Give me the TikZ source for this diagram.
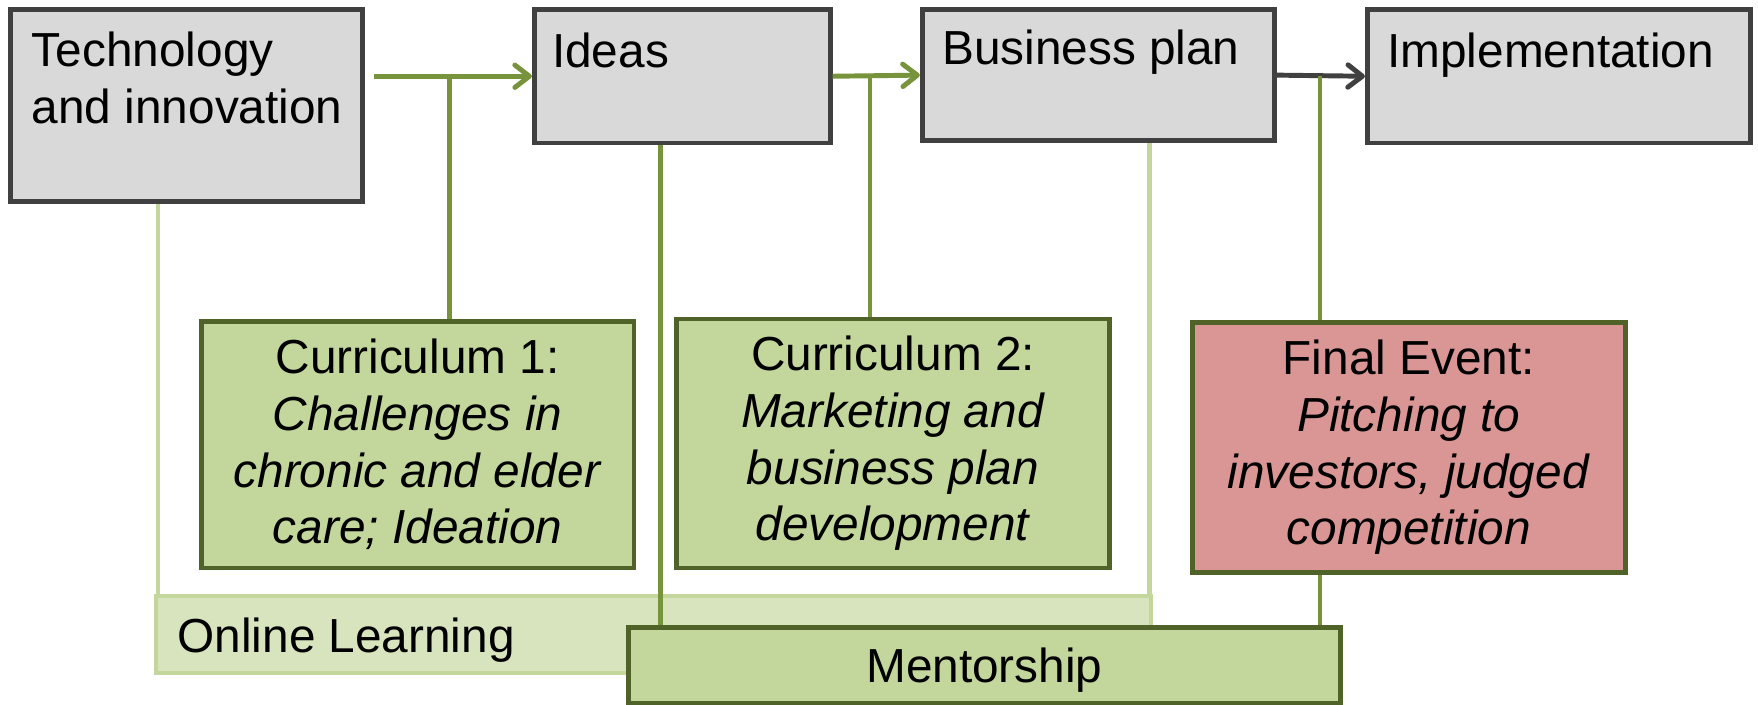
\documentclass[tikz,border=0pt]{standalone}
\usepackage{fontspec}
\setmainfont{Liberation Sans}
\usetikzlibrary{arrows.meta,calc}
\definecolor{boxgray}{HTML}{D9D9D9}
\definecolor{edgegray}{HTML}{404040}
\definecolor{olivefill}{HTML}{C3D69B}
\definecolor{oliveedge}{HTML}{4F6228}
\definecolor{arrowgreen}{HTML}{77933C}
\definecolor{paleline}{HTML}{C3D69B}
\definecolor{palefill}{HTML}{D7E4BD}
\definecolor{rosefill}{HTML}{D99694}
\begin{document}
\begin{tikzpicture}[x=0.5pt,y=-0.5pt,
  every node/.style={font=\fontsize{21.3pt}{25.3pt}\selectfont},
  graybox/.style={rectangle,draw=edgegray,fill=boxgray,line width=2.1pt,inner sep=0pt},
  toptext/.style={anchor=north west,inner sep=0pt,align=left},
  greenbox/.style={rectangle,draw=oliveedge,fill=olivefill,line width=2.1pt,inner sep=0pt,align=center},
  rosebox/.style={greenbox,fill=rosefill},
  palebox/.style={rectangle,draw=paleline,fill=palefill,line width=1.8pt,inner sep=0pt},
  garrow/.style={draw=arrowgreen,line width=2.2pt,-{Straight Barb[length=6.5pt,width=10pt,round]}},
  darrow/.style={draw=edgegray,line width=2.2pt,-{Straight Barb[length=6.5pt,width=10pt,round]}},
  gline/.style={draw=arrowgreen,line width=1.9pt},
  paleconn/.style={draw=paleline,line width=2.1pt}]
\useasboundingbox (0,0) rectangle (1568,628);

% top row
\node[graybox,minimum width=157pt,minimum height=85.5pt] (tech) at (166.5,94) {};
\node[graybox,minimum width=132pt,minimum height=59.5pt] (ideas) at (608.5,68) {};
\node[graybox,minimum width=157pt,minimum height=58.5pt] (bplan) at (979.5,67) {};
\node[graybox,minimum width=171pt,minimum height=59.5pt] (impl) at (1390.5,68) {};
\node[toptext] (techtext) at (28,28) {Technology\\and innovation};
\node[toptext] (ideastext) at (492,29) {Ideas};
\node[toptext] (bplantext) at (840,26) {Business plan};
\node[toptext] (impltext) at (1237,29) {Implementation};

% arrows
\draw[garrow] ($(tech.east |- ideas.west)+(8,0)$) -- (ideas.west);
\draw[garrow] (ideas.east) -- (bplan.west);
\draw[darrow] (bplan.east) -- (impl.west);

\coordinate (j1) at (401,70);
\coordinate (j2) at (776,68);
\coordinate (j3) at (1177,68);
\coordinate (p1) at (141,0);
\coordinate (p2) at (1025,0);
\coordinate (m1) at (589,0);

% middle boxes
\node[greenbox,minimum width=193pt,minimum height=110pt] (cur1) at (372.5,396.5)
  {Curriculum 1:\\\textit{Challenges in}\\\textit{chronic and elder}\\\textit{care; Ideation}};
\node[greenbox,minimum width=193pt,minimum height=111pt] (cur2) at (796.5,395.5)
  {Curriculum 2:\\\textit{Marketing and}\\\textit{business plan}\\\textit{development}};
\node[rosebox,minimum width=193pt,minimum height=111.5pt] (final) at (1256.5,399)
  {Final Event:\\\textit{Pitching to}\\\textit{investors, judged}\\\textit{competition}};

\draw[gline] (j1) -- (j1 |- cur1.north);
\draw[gline] (j2) -- (j2 |- cur2.north);
\draw[gline] (j3) -- (j3 |- final.north);

% bottom
\node[palebox,minimum width=443.5pt,minimum height=34.5pt] (online) at (583,566) {};
\node[anchor=west,inner sep=0pt] (onlinetext) at (158,571) {Online Learning};
\draw[paleconn] (p1 |- tech.south) -- (p1 |- online.north);
\draw[paleconn] (p2 |- bplan.south) -- (p2 |- online.north);
\node[greenbox,minimum width=317.5pt,minimum height=34pt,text depth=0pt] (mentor) at (878,593.5) {Mentorship};
\draw[gline] (m1 |- ideas.south) -- (m1 |- mentor.north);
\draw[gline] (j3 |- final.south) -- (j3 |- mentor.north);
\end{tikzpicture}
\end{document}
